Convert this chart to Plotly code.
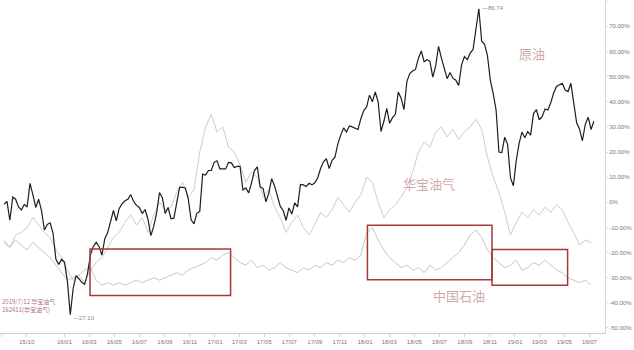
import pandas as pd
import plotly.graph_objects as go

# ---------------- data ----------------
base_price = 49.0
# Brent weekly closes (USD), 2015-08-07 .. 2019-07-12
brent = [
    48.6, 49.2, 45.5, 50.0, 49.6, 48.1, 47.5, 48.6, 48.1, 52.7, 50.5, 48.0, 49.6, 47.4, 43.6, 44.7, 45.0, 43.0, 37.9, 36.9, 37.9,
    37.3, 33.6, 27.1, 32.2, 34.7, 34.1, 33.4, 33.0, 35.1, 38.7, 40.4, 41.2, 40.4, 38.7, 41.9, 43.1, 45.1, 47.4,
    45.4, 47.8, 48.7, 49.3, 49.6, 50.5, 49.2, 48.4, 48.0, 46.8, 47.6, 45.7, 42.5, 44.3, 46.9, 50.9, 49.9,
    46.8, 48.0, 45.8, 45.9, 49.1, 51.9, 51.9, 51.8, 49.7, 45.6, 44.8, 46.9, 47.2, 54.5, 54.3, 55.2, 55.2, 56.8,
    57.1, 55.5, 55.5, 55.5, 56.8, 56.7, 55.8, 56.0, 56.0, 51.4, 51.8, 50.8, 52.8, 55.2, 55.9, 52.0, 51.7,
    49.1, 50.8, 53.6, 52.2, 49.9, 48.2, 47.4, 45.5, 47.9, 46.7, 48.9, 48.1, 52.5, 52.4, 52.1, 52.7, 52.4,
    52.8, 53.8, 55.6, 56.9, 57.5, 55.6, 57.2, 57.8, 60.4, 62.1, 63.5, 62.7, 63.9, 63.7, 63.4, 63.2, 65.3, 66.9,
    67.6, 69.9, 68.6, 70.5, 68.6, 62.8, 64.8, 67.3, 64.4, 65.5, 66.2, 70.5, 69.3, 67.1, 72.6, 74.1, 74.6,
    74.9, 77.1, 78.5, 76.4, 76.8, 76.5, 73.4, 75.6, 79.4, 77.1, 75.3, 73.1, 74.3, 73.2, 72.8, 71.8, 75.8, 77.4,
    76.8, 78.1, 78.8, 82.7, 86.74, 80.4, 79.8, 77.6, 72.8, 70.2, 67.0, 58.8, 58.7, 61.7, 60.3, 53.8, 52.2,
    57.1, 60.5, 62.7, 61.6, 62.8, 62.1, 66.3, 67.1, 65.1, 65.7, 67.2, 67.0, 68.4, 70.3, 71.6, 71.9, 72.2,
    70.9, 70.6, 72.2, 68.7, 64.5, 63.3, 61.0, 64.2, 65.6, 63.2, 64.8,
]
# 华宝油气, biweekly, % change
huabao = [
    -15, -18, -13, -12, -10, -6, -9, -12, -14, -19,
    -22, -27, -31, -29, -32, -27, -24, -22, -18, -14,
    -12, -8, -5, -9, -6, -12, -5, 0, -3, -2,
    4, 8, 2, 5, 20, 30, 35, 28, 30, 22,
    20, 15, 8, 12, 10, 2, 5, -2, -6, -12,
    -8, -5, -10, -13, -9, -4, -6, -3, 2, -1,
    -4, 0, 3, 10, 8, 0, -6, -3, -1, 2,
    6, 12, 20, 24, 22, 28, 30, 26, 29, 25,
    28, 30, 33, 29, 18, 10, 4, -4, -13, -8,
    -4, -6, -3, -5, -2, -4, -1, -3, -8, -12,
    -17, -15, -16,
]
# 中国石油, biweekly, % change
petrochina = [
    -16, -18, -15, -17, -19, -16, -18, -20, -22, -25,
    -28, -31, -30, -29, -27, -26, -31, -33, -32, -33,
    -32, -33, -32, -31, -32, -31, -30, -31, -30, -29,
    -28, -29, -27, -26, -25, -24, -22, -23, -21, -20,
    -22, -24, -25, -23, -26, -25, -27, -26, -24, -26,
    -27, -28, -26, -27, -25, -26, -24, -25, -23, -24,
    -22, -23, -21, -12, -10, -15, -19, -22, -24, -26,
    -25, -27, -26, -28, -25, -27, -26, -24, -22, -20,
    -17, -13, -11, -14, -19, -22, -24, -26, -25, -23,
    -27, -26, -24, -25, -23, -25, -27, -28, -30, -31,
    -32, -31, -33,
]
x_tick_dates = ["2015-08-01", "2015-10-01", "2016-01-01", "2016-03-01", "2016-05-01", "2016-07-01",
                "2016-09-01", "2016-11-01", "2017-01-01", "2017-03-01", "2017-05-01", "2017-07-01",
                "2017-09-01", "2017-11-01", "2018-01-01", "2018-03-01", "2018-05-01", "2018-07-01",
                "2018-09-01", "2018-11-01", "2019-01-01", "2019-03-01", "2019-05-01", "2019-07-01"]
x_tick_labels = ["15/08", "15/10", "16/01", "16/03", "16/05", "16/07", "16/09", "16/11", "17/01", "17/03",
                 "17/05", "17/07", "17/09", "17/11", "18/01", "18/03", "18/05", "18/07", "18/09", "18/11",
                 "19/01", "19/03", "19/05", "19/07"]
y_tick_vals = [80, 70, 60, 50, 40, 30, 20, 10, 0, -10, -20, -30, -40, -50]
y_tick_labels = ["80.00%", "70.00%", "60.00%", "50.00%", "40.00%", "30.00%", "20.00%", "10.00%", "0%",
                 "-10.00%", "-20.00%", "-30.00%", "-40.00%", "-50.00%"]
# highlight boxes: (x0, x1, y0, y1) in data units
boxes = [("2016-03-03", "2017-02-08", -37.1, -18.6),
         ("2018-01-07", "2018-11-06", -30.8, -9.1),
         ("2018-11-06", "2019-05-09", -33.0, -18.8)]
labels = [("原油", "2019-02-12", 59.3), ("华宝油气", "2018-06-05", 7.5), ("中国石油", "2018-08-17", -37.2)]

# ---------------- figure ----------------
wk = pd.date_range("2015-08-07", periods=len(brent), freq="W-FRI")
bw = pd.date_range("2015-08-07", periods=len(huabao), freq="2W-FRI")
brent_pct = [(p / base_price - 1) * 100 for p in brent]

fig = go.Figure()
fig.add_trace(go.Scatter(x=bw, y=petrochina, mode="lines", line=dict(color="#cbc5c6", width=1), name="中国石油"))
fig.add_trace(go.Scatter(x=bw, y=huabao, mode="lines", line=dict(color="#dcc3d0", width=1), name="华宝油气"))
fig.add_trace(go.Scatter(x=wk, y=brent_pct, mode="lines", line=dict(color="#1e1e1e", width=1.2), name="原油"))

for x0, x1, y0, y1 in boxes:
    fig.add_shape(type="rect", x0=x0, x1=x1, y0=y0, y1=y1, xref="x", yref="y",
                  line=dict(color="#a23a3a", width=1.5), fillcolor="rgba(0,0,0,0)")

for t, x, y in labels:
    fig.add_annotation(x=x, y=y, text=t, showarrow=False,
                       font=dict(family="Noto Sans CJK SC", size=13, color="#cfaaaa"))

imin = brent.index(min(brent))
imax = brent.index(max(brent))
fig.add_annotation(x=wk[imin], y=brent_pct[imin], text="—%.2f" % brent[imin], showarrow=False,
                   xanchor="left", yanchor="middle", xshift=1, yshift=-3,
                   font=dict(family="Liberation Sans", size=6, color="#888"))
fig.add_annotation(x=wk[imax], y=brent_pct[imax], text="—%.2f" % brent[imax], showarrow=False,
                   xanchor="left", yanchor="middle", xshift=1, yshift=1,
                   font=dict(family="Liberation Sans", size=6, color="#888"))

fig.add_annotation(xref="paper", yref="paper", x=0, y=0.05, xanchor="left", yanchor="bottom", align="left",
                   text="2019/7/12 华宝油气<br>162411(华宝油气)", showarrow=False,
                   font=dict(family="Noto Sans CJK SC", size=6, color="#b0708a"))

fig.update_layout(
    width=634, height=350,
    margin=dict(l=0, r=29, t=0, b=17),
    paper_bgcolor="white", plot_bgcolor="white",
    showlegend=False,
    xaxis=dict(type="date", range=["2015-07-28", "2019-08-08"], tickvals=x_tick_dates, ticktext=x_tick_labels,
               tickfont=dict(family="Liberation Sans", size=6, color="#777"), showgrid=False, zeroline=False,
               showline=True, linecolor="#cfcfcf", linewidth=1, ticks="outside", ticklen=3, tickcolor="#d5d5d5"),
    yaxis=dict(side="right", range=[-52, 80.5], tickvals=y_tick_vals, ticktext=y_tick_labels,
               tickfont=dict(family="Liberation Sans", size=6, color="#777"), showgrid=False, zeroline=False,
               showline=True, linecolor="#d5d5d5", linewidth=1, ticks="outside", ticklen=2, tickcolor="#ddd"),
)

fig.write_html("out.html")
